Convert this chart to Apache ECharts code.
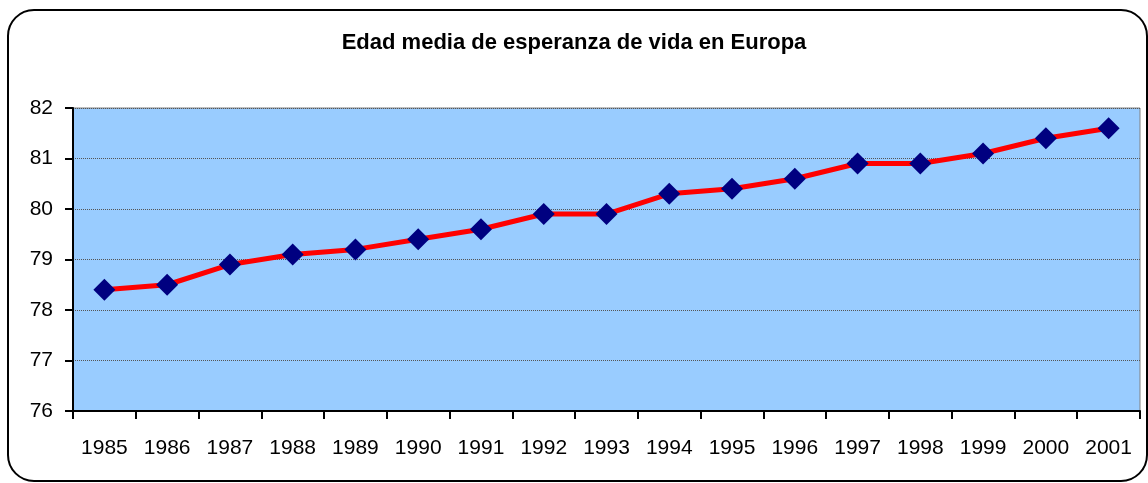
<!DOCTYPE html>
<html>
<head>
<meta charset="utf-8">
<script src="https://cdn.jsdelivr.net/npm/echarts@6/dist/echarts.min.js"></script>
<style>
  html, body { margin: 0; padding: 0; background: #fff; }
  #chart { width: 1148px; height: 483px; }
</style>
</head>
<body>
<div id="chart"></div>
<script>
// datos del gráfico
const years = ["1985", "1986", "1987", "1988", "1989", "1990", "1991", "1992", "1993",
  "1994", "1995", "1996", "1997", "1998", "1999", "2000", "2001"];
const esperanza = [78.4, 78.5, 78.9, 79.1, 79.2, 79.4, 79.6, 79.9, 79.9,
  80.3, 80.4, 80.6, 80.9, 80.9, 81.1, 81.4, 81.6];
const yMin = 76;
const yMax = 82;

const myChart = echarts.init(document.getElementById("chart"));

const option = {
  animation: false,
  textStyle: { fontFamily: "Liberation Sans, Arial, sans-serif" },
  title: {
    text: "Edad media de esperanza de vida en Europa",
    left: "center",
    top: 27,
    textStyle: { fontSize: 22, fontWeight: "bold", color: "#000" },
  },
  graphic: [
    {
      type: "rect",
      shape: { x: 8, y: 10, width: 1139, height: 471, r: 26 },
      style: { fill: "none", stroke: "#000", lineWidth: 2 },
      z: -1,
    },
  ],
  grid: {
    left: 73,
    right: 8,
    top: 108,
    bottom: 72,
    show: true,
    backgroundColor: "#99CCFF",
    borderColor: "#808080",
    borderWidth: 1,
  },
  xAxis: {
    type: "category",
    data: years,
    boundaryGap: true,
    axisLine: { lineStyle: { color: "#000", width: 2 } },
    axisTick: { show: true, length: 8, inside: false, lineStyle: { color: "#000", width: 2 } },
    axisLabel: { color: "#000", fontSize: 21, margin: 27 },
  },
  yAxis: {
    type: "value",
    min: yMin,
    max: yMax,
    interval: 1,
    axisLine: { show: true, lineStyle: { color: "#000", width: 2 } },
    axisTick: { show: true, length: 8, lineStyle: { color: "#000", width: 2 } },
    axisLabel: { color: "#000", fontSize: 21, margin: 20 },
    splitLine: { show: true, lineStyle: { color: "#555", width: 1, type: "dotted" } },
  },
  series: [
    {
      type: "line",
      data: esperanza,
      symbol: "diamond",
      symbolSize: 22,
      lineStyle: { color: "#FF0000", width: 5 },
      itemStyle: { color: "#000080" },
    },
  ],
};

myChart.setOption(option);
</script>
</body>
</html>
